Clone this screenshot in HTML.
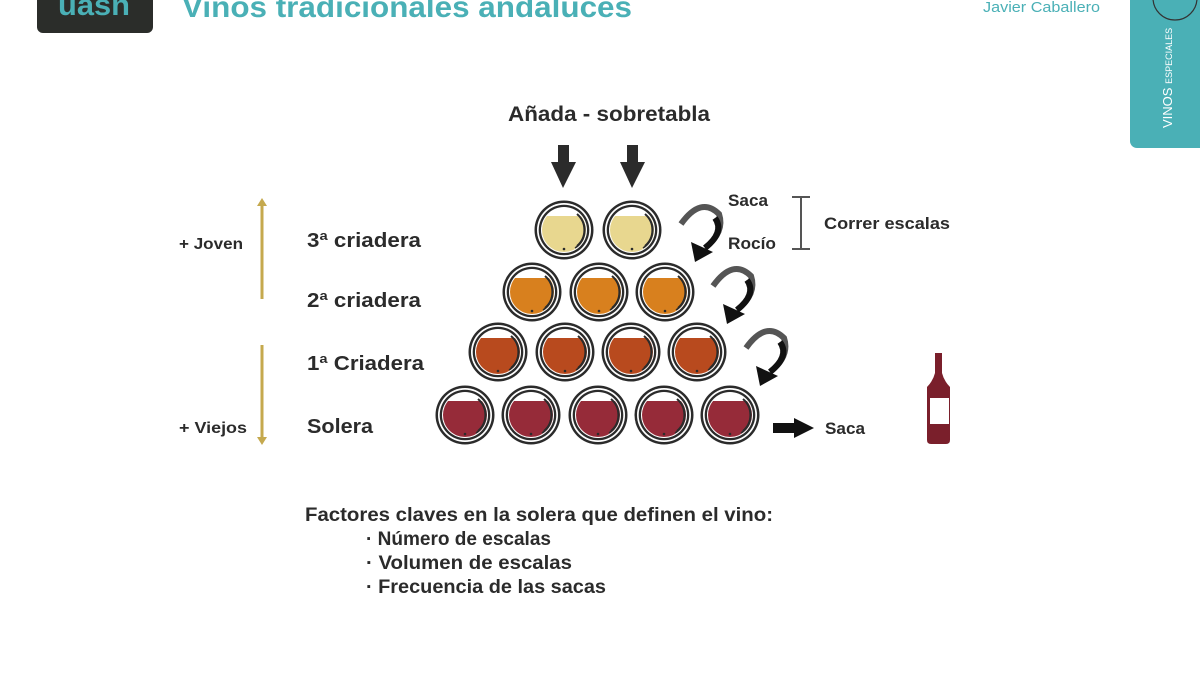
<!DOCTYPE html>
<html><head><meta charset="utf-8"><style>
html,body{margin:0;padding:0;background:#fff;}
body{width:1200px;height:675px;overflow:hidden;position:relative;font-family:"Liberation Sans","DejaVu Sans",sans-serif;}
svg{position:absolute;left:0;top:0}
</style></head><body>
<svg width="1200" height="675" viewBox="0 0 1200 675" xmlns="http://www.w3.org/2000/svg" font-family="'Liberation Sans','DejaVu Sans',sans-serif">
<defs>
<clipPath id="cl"><circle r="22"/></clipPath>
<g id="barrel">
<circle r="29.5" fill="#2b2b2b"/>
<circle r="27" fill="#fff"/>
<circle r="25.3" fill="#2b2b2b"/>
<circle r="23" fill="#fff"/>
</g>
<g id="inner">
<path d="M13,-16 A21,21 0 0 1 13,16" fill="none" stroke="#2b2b2b" stroke-width="2"/>
<path d="M17,-12 A21,21 0 0 1 11,18" fill="none" stroke="#2b2b2b" stroke-width="1.5"/>
<circle cx="0" cy="19" r="1.3" fill="#2b2b2b"/>
</g>
<g id="carrow">
<path d="M0,14 Q20,-14 38,4 Q44,22 24,38" fill="none" stroke="#555" stroke-width="6"/>
<path d="M34,8 Q44,22 24,38" fill="none" stroke="#111" stroke-width="6"/>
<polygon points="10,32 32,42 14,52" fill="#111"/>
</g>
</defs>
<!-- header -->
<rect x="37" y="-10" width="116" height="43" rx="6" fill="#2b2d2a"/>
<text x="58" y="15" font-size="30" fill="#4ab0b6" font-weight="bold" textLength="72" lengthAdjust="spacingAndGlyphs">uasn</text>
<text x="182" y="17" font-size="30" fill="#4ab0b6" font-weight="bold" textLength="450" lengthAdjust="spacingAndGlyphs">Vinos tradicionales andaluces</text>
<text x="983" y="12" font-size="15" fill="#4ab0b6" textLength="117" lengthAdjust="spacingAndGlyphs">Javier Caballero</text>
<rect x="1130" y="-10" width="90" height="158" rx="7" fill="#4ab0b6"/>
<circle cx="1175" cy="-2" r="22" fill="#4ab0b6" stroke="#333" stroke-width="1.2"/>
<text transform="translate(1172,128) rotate(-90)" font-size="13" fill="#fff">VINOS <tspan font-size="9">ESPECIALES</tspan></text>
<!-- top label -->
<text x="508" y="121" font-size="21" fill="#2b2b2b" font-weight="bold" textLength="202" lengthAdjust="spacingAndGlyphs">Añada - sobretabla</text>
<g fill="#2b2b2b">
<rect x="558" y="145" width="11" height="18"/><polygon points="551,162 576,162 563,188"/>
<rect x="627" y="145" width="11" height="18"/><polygon points="620,162 645,162 632,188"/>
</g>
<!-- row1 -->
<g transform="translate(564,230)"><use href="#barrel"/><rect x="-24" y="-14" width="48" height="40" fill="#e8d78f" clip-path="url(#cl)"/><use href="#inner"/></g>
<g transform="translate(632,230)"><use href="#barrel"/><rect x="-24" y="-14" width="48" height="40" fill="#e8d78f" clip-path="url(#cl)"/><use href="#inner"/></g>
<!-- row2 -->
<g transform="translate(532,292)"><use href="#barrel"/><rect x="-24" y="-14" width="48" height="40" fill="#d8801e" clip-path="url(#cl)"/><use href="#inner"/></g>
<g transform="translate(599,292)"><use href="#barrel"/><rect x="-24" y="-14" width="48" height="40" fill="#d8801e" clip-path="url(#cl)"/><use href="#inner"/></g>
<g transform="translate(665,292)"><use href="#barrel"/><rect x="-24" y="-14" width="48" height="40" fill="#d8801e" clip-path="url(#cl)"/><use href="#inner"/></g>
<!-- row3 -->
<g transform="translate(498,352)"><use href="#barrel"/><rect x="-24" y="-14" width="48" height="40" fill="#b84a1e" clip-path="url(#cl)"/><use href="#inner"/></g>
<g transform="translate(565,352)"><use href="#barrel"/><rect x="-24" y="-14" width="48" height="40" fill="#b84a1e" clip-path="url(#cl)"/><use href="#inner"/></g>
<g transform="translate(631,352)"><use href="#barrel"/><rect x="-24" y="-14" width="48" height="40" fill="#b84a1e" clip-path="url(#cl)"/><use href="#inner"/></g>
<g transform="translate(697,352)"><use href="#barrel"/><rect x="-24" y="-14" width="48" height="40" fill="#b84a1e" clip-path="url(#cl)"/><use href="#inner"/></g>
<!-- row4 -->
<g transform="translate(465,415)"><use href="#barrel"/><rect x="-24" y="-14" width="48" height="40" fill="#962b39" clip-path="url(#cl)"/><use href="#inner"/></g>
<g transform="translate(531,415)"><use href="#barrel"/><rect x="-24" y="-14" width="48" height="40" fill="#962b39" clip-path="url(#cl)"/><use href="#inner"/></g>
<g transform="translate(598,415)"><use href="#barrel"/><rect x="-24" y="-14" width="48" height="40" fill="#962b39" clip-path="url(#cl)"/><use href="#inner"/></g>
<g transform="translate(664,415)"><use href="#barrel"/><rect x="-24" y="-14" width="48" height="40" fill="#962b39" clip-path="url(#cl)"/><use href="#inner"/></g>
<g transform="translate(730,415)"><use href="#barrel"/><rect x="-24" y="-14" width="48" height="40" fill="#962b39" clip-path="url(#cl)"/><use href="#inner"/></g>
<!-- curved arrows -->
<use href="#carrow" transform="translate(681,210)"/>
<use href="#carrow" transform="translate(713,272)"/>
<use href="#carrow" transform="translate(746,334)"/>
<!-- right labels -->
<g font-size="17" fill="#2b2b2b" font-weight="bold">
<text x="728" y="206" textLength="40" lengthAdjust="spacingAndGlyphs">Saca</text>
<text x="728" y="249" textLength="48" lengthAdjust="spacingAndGlyphs">Rocío</text>
<text x="824" y="229" textLength="126" lengthAdjust="spacingAndGlyphs">Correr escalas</text>
<text x="825" y="434" textLength="40" lengthAdjust="spacingAndGlyphs">Saca</text>
</g>
<g stroke="#555" stroke-width="2"><line x1="801" y1="197" x2="801" y2="249"/><line x1="792" y1="197" x2="810" y2="197"/><line x1="792" y1="249" x2="810" y2="249"/></g>
<rect x="773" y="423" width="22" height="10" fill="#111"/><polygon points="794,418 814,428 794,438" fill="#111"/>
<!-- bottle -->
<path d="M935,353 h7 v20 q2,8 8,14 v53 q0,4 -4,4 h-15 q-4,0 -4,-4 v-53 q6,-6 8,-14z" fill="#7a1f2b"/>
<rect x="930" y="398" width="19" height="26" fill="#fff"/>
<!-- left -->
<g stroke="#c5a94e" stroke-width="3" fill="#c5a94e">
<line x1="262" y1="205" x2="262" y2="299"/><polygon points="257,206 262,198 267,206" stroke="none"/>
<line x1="262" y1="345" x2="262" y2="438"/><polygon points="257,437 262,445 267,437" stroke="none"/>
</g>
<g font-size="16" fill="#2b2b2b" font-weight="bold">
<text x="179" y="249" textLength="64" lengthAdjust="spacingAndGlyphs">+ Joven</text>
<text x="179" y="433" textLength="68" lengthAdjust="spacingAndGlyphs">+ Viejos</text>
</g>
<g font-size="20" fill="#2b2b2b" font-weight="bold">
<text x="307" y="247" textLength="114" lengthAdjust="spacingAndGlyphs">3ª criadera</text>
<text x="307" y="307" textLength="114" lengthAdjust="spacingAndGlyphs">2ª criadera</text>
<text x="307" y="370" textLength="117" lengthAdjust="spacingAndGlyphs">1ª Criadera</text>
<text x="307" y="433" textLength="66" lengthAdjust="spacingAndGlyphs">Solera</text>
</g>
<g font-size="19" fill="#2b2b2b" font-weight="bold">
<text x="305" y="521" textLength="468" lengthAdjust="spacingAndGlyphs">Factores claves en la solera que definen el vino:</text>
<text x="366" y="545" textLength="185" lengthAdjust="spacingAndGlyphs">· Número de escalas</text>
<text x="366" y="569" textLength="206" lengthAdjust="spacingAndGlyphs">· Volumen de escalas</text>
<text x="366" y="593" textLength="240" lengthAdjust="spacingAndGlyphs">· Frecuencia de las sacas</text>
</g>
</svg>
</body></html>
